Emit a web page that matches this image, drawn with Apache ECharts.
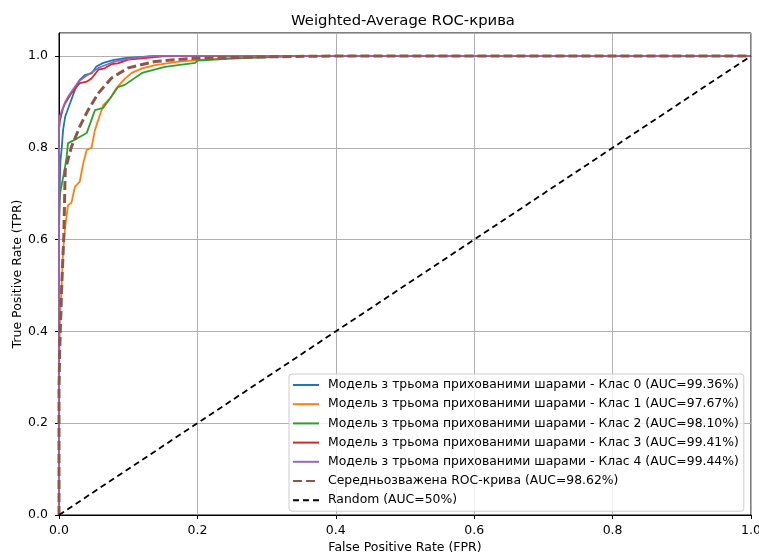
<!DOCTYPE html>
<html>
<head>
<meta charset="utf-8">
<script src="https://cdn.jsdelivr.net/npm/echarts@6/dist/echarts.min.js"></script>
<style>
    html, body {margin: 0; padding: 0; background: #fff;}
    #chart {width: 759px; height: 553px;}
</style>
</head>
<body>
<div id="chart"></div>
<script>
// ROC points [FPR, TPR]
const class0 = [[0, 0], [0, 0.65], [0.002, 0.77], [0.004, 0.8], [0.006, 0.84], [0.009, 0.868], [0.016, 0.897], [0.023, 0.926], [0.03, 0.948], [0.038, 0.959], [0.047, 0.962], [0.054, 0.977], [0.064, 0.985], [0.078, 0.991], [0.095, 0.995], [0.11, 0.997], [0.14, 1.0], [1, 1]];
const class1 = [[0, 0], [0, 0.3], [0.001, 0.39], [0.0015, 0.43], [0.004, 0.505], [0.006, 0.577], [0.009, 0.628], [0.013, 0.675], [0.018, 0.68], [0.023, 0.715], [0.03, 0.726], [0.035, 0.766], [0.04, 0.795], [0.047, 0.8], [0.052, 0.839], [0.064, 0.893], [0.075, 0.91], [0.083, 0.93], [0.095, 0.95], [0.105, 0.963], [0.12, 0.973], [0.139, 0.98], [0.17, 0.987], [0.2, 0.991], [0.25, 0.996], [0.3, 1.0], [1, 1]];
const class2 = [[0, 0], [0, 0.62], [0.0015, 0.7], [0.004, 0.72], [0.009, 0.76], [0.011, 0.78], [0.013, 0.81], [0.026, 0.82], [0.04, 0.832], [0.052, 0.882], [0.064, 0.887], [0.075, 0.91], [0.085, 0.932], [0.095, 0.937], [0.12, 0.963], [0.153, 0.976], [0.197, 0.985], [0.2, 0.99], [0.25, 0.994], [0.3, 0.997], [0.35, 1.0], [1, 1]];
const class3 = [[0, 0], [0, 0.84], [0.0015, 0.86], [0.006, 0.887], [0.009, 0.897], [0.018, 0.919], [0.03, 0.941], [0.04, 0.944], [0.047, 0.951], [0.057, 0.97], [0.066, 0.973], [0.076, 0.982], [0.085, 0.984], [0.1, 0.992], [0.12, 0.995], [0.15, 0.999], [0.2, 1.0], [1, 1]];
const class4 = [[0, 0], [0, 0.85], [0.0015, 0.87], [0.009, 0.9], [0.013, 0.911], [0.023, 0.933], [0.028, 0.944], [0.038, 0.955], [0.042, 0.959], [0.057, 0.974], [0.062, 0.977], [0.081, 0.988], [0.11, 0.996], [0.14, 1.0], [1, 1]];
const weighted = [[0, 0], [0, 0.27], [0.001, 0.36], [0.004, 0.5], [0.007, 0.61], [0.009, 0.752], [0.018, 0.802], [0.03, 0.846], [0.042, 0.882], [0.057, 0.919], [0.076, 0.952], [0.1, 0.974], [0.139, 0.988], [0.177, 0.993], [0.2, 0.995], [0.3, 0.998], [0.4, 1.0], [1, 1]];
const randomLine = [[0, 0], [1, 1]];

const classCurves = [class0, class1, class2, class3, class4];
const classAuc = ["99.36", "97.67", "98.10", "99.41", "99.44"];
const weightedAuc = "98.62";

const colors = ["#1f77b4", "#ff7f0e", "#2ca02c", "#d62728", "#9467bd"];
const font = "DejaVu Sans";

let series = classCurves.map((pts, i) => ({
    name: "Модель з трьома прихованими шарами - Клас " + i + " (AUC=" + classAuc[i] + "%)",
    type: "line",
    symbol: "none",
    data: pts,
    lineStyle: {color: colors[i], width: 1.8},
    itemStyle: {color: colors[i]}
}));
series.push({
    name: "Середньозважена ROC-крива (AUC=" + weightedAuc + "%)",
    type: "line",
    symbol: "none",
    data: weighted,
    lineStyle: {color: "#8c564b", width: 3, type: [9, 4]},
    itemStyle: {color: "#8c564b"}
});
series.push({
    name: "Random (AUC=50%)",
    type: "line",
    symbol: "none",
    data: randomLine,
    lineStyle: {color: "#000", width: 1.8, type: [6, 4]},
    itemStyle: {color: "#000"}
});

let chart = echarts.init(document.getElementById("chart"));
chart.setOption({
    animation: false,
    backgroundColor: "#fff",
    title: {
        text: "Weighted-Average ROC-крива",
        left: 398,
        top: 9,
        textAlign: "center",
        textStyle: {fontFamily: font, fontSize: 14.8, fontWeight: "normal", color: "#000"}
    },
    grid: {
        left: 59, right: 8, top: 33, bottom: 38,
        outerBoundsMode: "none",
        containLabel: false,
        show: true, borderColor: "#000", borderWidth: 1
    },
    legend: {
        orient: "vertical",
        left: 289,
        top: 374,
        itemWidth: 26,
        itemHeight: 10,
        itemGap: 7.2,
        padding: [5, 5, 5, 3],
        backgroundColor: "rgba(255,255,255,0.8)",
        borderColor: "#cccccc",
        borderWidth: 1,
        borderRadius: 3,
        itemStyle: {opacity: 0},
        textStyle: {fontFamily: font, fontSize: 12.4, color: "#000", padding: [0, 0, 0, 4]},
        data: series.map(s => s.name)
    },
    xAxis: {
        type: "value",
        min: 0,
        max: 1,
        interval: 0.2,
        name: "False Positive Rate (FPR)",
        nameLocation: "middle",
        nameGap: 26,
        nameMoveOverlap: false,
        nameTextStyle: {fontFamily: font, fontSize: 12.5, color: "#000"},
        axisLine: {show: true, lineStyle: {color: "#000"}},
        axisTick: {show: true, length: 4, lineStyle: {color: "#000"}},
        axisLabel: {fontFamily: font, fontSize: 12.5, color: "#000", margin: 9,
            formatter: v => v.toFixed(1)},
        splitLine: {show: true, lineStyle: {color: "#b0b0b0", width: 1}}
    },
    yAxis: {
        type: "value",
        min: 0,
        max: 1.05,
        interval: 0.2,
        name: "True Positive Rate (TPR)",
        nameLocation: "middle",
        nameGap: 35,
        nameMoveOverlap: false,
        nameTextStyle: {fontFamily: font, fontSize: 12.5, color: "#000"},
        axisLine: {show: true, lineStyle: {color: "#000"}},
        axisTick: {show: true, length: 4, lineStyle: {color: "#000"}},
        axisLabel: {fontFamily: font, fontSize: 12.5, color: "#000", margin: 11,
            showMaxLabel: false,
            formatter: v => (Math.abs(v / 0.2 - Math.round(v / 0.2)) < 1e-6 ? v.toFixed(1) : "")},
        splitLine: {show: true, lineStyle: {color: "#b0b0b0", width: 1}}
    },
    series: series
});
</script>
</body>
</html>
